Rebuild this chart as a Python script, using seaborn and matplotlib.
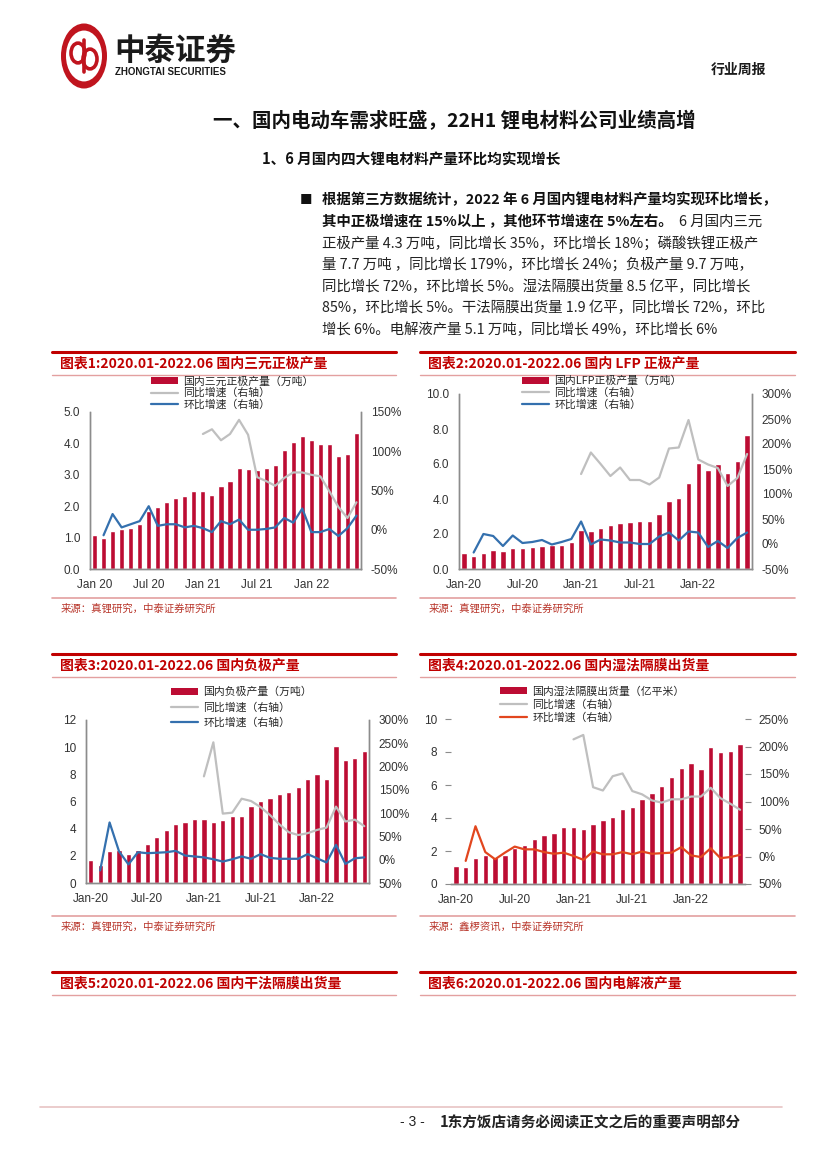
import numpy as np
import pandas as pd
import matplotlib
matplotlib.use("Agg")
import matplotlib.pyplot as plt
import seaborn as sns
from matplotlib.lines import Line2D
from matplotlib.patches import Patch, Circle

# ---------------- data ----------------
months = pd.date_range("2020-01-01", periods=30, freq="MS").strftime("%Y-%m").tolist()
tick_pos = [0, 6, 12, 18, 24]
ticks_space = ["Jan 20", "Jul 20", "Jan 21", "Jul 21", "Jan 22"]
ticks_dash = ["Jan-20", "Jul-20", "Jan-21", "Jul-21", "Jan-22"]

# chart 1: NCM cathode output (10k t), yoy from Jan-21, mom from Feb-20 (%)
ncm_output = [1.09, 1.00, 1.22, 1.27, 1.31, 1.44, 1.86, 1.98, 2.14, 2.27, 2.33, 2.47,
              2.47, 2.36, 2.65, 2.81, 3.22, 3.19, 3.16, 3.22, 3.32, 3.80, 4.05, 4.25,
              4.11, 3.98, 3.98, 3.60, 3.67, 4.33]
ncm_yoy = [122, 128, 114, 122, 140, 121, 67, 62, 56, 66, 73, 73, 70, 68, 49, 29, 15, 35]
ncm_mom = [-7, 20, 3, 7, 11, 30, 5, 7, 7, 3, 5,
           2, -3, 11, 7, 13, 0, 0, 1, 3, 15, 9, 27,
           -3, -3, 1, -8, 2, 18]

# chart 2: LFP cathode output
lfp_output = [0.92, 0.75, 0.92, 1.09, 1.03, 1.21, 1.21, 1.28, 1.32, 1.38, 1.40, 1.57,
              2.24, 2.18, 2.36, 2.53, 2.64, 2.70, 2.76, 2.76, 3.16, 3.91, 4.08, 4.89,
              6.03, 5.63, 5.98, 5.46, 6.15, 7.64]
lfp_yoy = [140, 183, 160, 136, 153, 128, 128, 119, 133, 191, 193, 248, 169, 159, 152, 116, 132, 180]
lfp_mom = [-17, 20, 16, -4, 17, 2, 4, 8, -1, 4, 10,
           45, -1, 9, 7, 3, 3, 0, 0, 15, 23, 7, 25,
           23, -6, 6, -8, 12, 23]

# chart 3: anode output
anode_output = [1.72, 1.30, 2.33, 2.45, 2.16, 2.45, 2.84, 3.36, 3.92, 4.36, 4.51, 4.73,
                4.73, 4.51, 4.66, 4.95, 4.95, 5.69, 6.05, 6.27, 6.57, 6.72, 7.08, 7.67,
                8.04, 7.62, 10.1, 9.07, 9.22, 9.73]
anode_yoy = [179, 252, 99, 101, 131, 126, 113, 96, 76, 59, 53, 57, 64, 69, 114, 82, 86, 72]
anode_mom = [-23, 80, 18, -10, 16, 14, 15, 16, 19, 9, 7,
             5, 1, -4, 1, 7, 2, 12, 4, 2, 2, 2, 12,
             3, -6, 32, -9, 3, 5]

# chart 4: wet separator shipments (100m m2)
wet_output = [1.10, 1.03, 1.58, 1.76, 1.65, 1.76, 2.20, 2.37, 2.74, 2.96, 3.10, 3.45,
              3.45, 3.35, 3.65, 3.87, 4.06, 4.54, 4.67, 5.15, 5.52, 5.94, 6.49, 7.04,
              7.34, 6.98, 8.32, 8.01, 8.07, 8.46]
wet_yoy = [213, 221, 126, 120, 146, 151, 119, 113, 102, 98, 104, 104, 109, 109, 125, 106, 96, 85]
wet_mom = [-8, 55, 8, -5, 7, 18, 13, 13, 8, 5, 7,
           1, -6, 9, 4, 4, 8, 4, 9, 5, 6, 7, 17,
           2, -1, 15, -3, -1, 3]

# ---------------- style ----------------
W, H = 827, 1169
BAR_RED = "#BC0C33"
GREY = "#BFBFBF"
BLUE = "#3470AE"
ORANGE = "#E2461E"
TITLE_RED = "#C00000"
PINK = "#E3A0A0"
SPINE = "#8C8C8C"
TICK_TXT = "#333333"
LATIN = "Liberation Sans"

sns.set_style("white")
plt.rcParams['font.family'] = ['Noto Sans CJK SC', 'DejaVu Sans']

fig = plt.figure(figsize=(W / 100, H / 100), dpi=100)


def fx(x):
    return x / W


def fy(y):
    return 1 - y / H


def page_text(x, y, s, **kw):
    kw.setdefault("va", "center")
    return fig.text(fx(x), fy(y), s, **kw)


def hline(x0, x1, y, color, lw):
    fig.add_artist(Line2D([fx(x0), fx(x1)], [fy(y), fy(y)],
                          transform=fig.transFigure, color=color, lw=lw))


def chart_block(x0, x1, top, title, bottom=None, source=None):
    hline(x0, x1, top, TITLE_RED, 2.2)
    page_text(x0 + 8, top + 12, title, color=TITLE_RED, fontsize=10, fontweight="bold")
    hline(x0, x1, top + 23, PINK, 1.0)
    if bottom is not None:
        hline(x0, x1, bottom, PINK, 1.2)
        page_text(x0 + 9, bottom + 11, source, color="#B8352A", fontsize=7.5)


def draw_chart(box, values, yoy, mom, ylim, yticks, yfmt, rlim, rlabels, xlabels,
               bar_label, legend_xy, mom_color, spines=True, row_gap=0.25):
    x0, y0, x1, y1 = box
    ax = fig.add_axes([fx(x0), fy(y1), (x1 - x0) / W, (y1 - y0) / H])
    df = pd.DataFrame({"month": months, "value": values})
    sns.barplot(data=df, x="month", y="value", color=BAR_RED, saturation=1,
                width=0.56, ax=ax)
    ax2 = ax.twinx()
    sns.lineplot(x=np.arange(12, 30), y=yoy, color=GREY, lw=1.6, ax=ax2)
    sns.lineplot(x=np.arange(1, 30), y=mom, color=mom_color, lw=1.6, ax=ax2)

    ax.set_xlim(-0.5, 29.5)
    ax.set_ylim(*ylim)
    ax.set_yticks(yticks)
    ax.set_yticklabels([yfmt.format(v) for v in yticks])
    ax.set_xticks(tick_pos)
    ax.set_xticklabels(xlabels)
    rt = list(range(rlim[0], rlim[1] + 1, 50))
    ax2.set_ylim(*rlim)
    ax2.set_yticks(rt)
    ax2.set_yticklabels(rlabels)
    for a in (ax, ax2):
        a.set_xlabel("")
        a.set_ylabel("")
        a.spines["top"].set_visible(False)
        for s in a.spines.values():
            s.set_color(SPINE)
            s.set_linewidth(1.0)
    ax.tick_params(axis="x", length=3, color=SPINE, labelsize=8.5, labelcolor=TICK_TXT,
                   labelfontfamily=LATIN, pad=4)
    if spines:
        ax.tick_params(axis="y", length=0, labelsize=8.5, labelcolor=TICK_TXT,
                       labelfontfamily=LATIN, pad=7)
        ax2.tick_params(axis="y", length=0, labelsize=8.5, labelcolor=TICK_TXT,
                        labelfontfamily=LATIN, pad=7)
    else:
        for a in (ax, ax2):
            a.spines["left"].set_visible(False)
            a.spines["right"].set_visible(False)
        ax.tick_params(axis="y", length=4, color=SPINE, labelsize=8.5, labelcolor=TICK_TXT,
                       labelfontfamily=LATIN, pad=6)
        ax2.tick_params(axis="y", length=4, color=SPINE, labelsize=8.5, labelcolor=TICK_TXT,
                        labelfontfamily=LATIN, pad=6)
    if ax2.get_legend():
        ax2.get_legend().remove()

    handles = [Patch(facecolor=BAR_RED, edgecolor="none"),
               Line2D([], [], color=GREY, lw=1.6),
               Line2D([], [], color=mom_color, lw=1.6)]
    labels = [bar_label, "同比增速（右轴）", "环比增速（右轴）"]
    fig.legend(handles, labels, loc="upper left",
               bbox_to_anchor=(fx(legend_xy[0]), fy(legend_xy[1])),
               frameon=False, fontsize=7.8, handlelength=2.5, handleheight=0.6,
               handletextpad=0.5, labelspacing=row_gap, borderpad=0, borderaxespad=0)
    return ax, ax2


# ---------------- header ----------------
fig.add_artist(Circle((fx(84), fy(56)), 23 / W, transform=fig.transFigure,
                      facecolor="#C0141E", edgecolor="none"))
fig.add_artist(Circle((fx(84), fy(56)), 18 / W, transform=fig.transFigure,
                      facecolor="white", edgecolor="none"))
fig.add_artist(Circle((fx(78), fy(53)), 7 / W, transform=fig.transFigure,
                      facecolor="none", edgecolor="#C0141E", lw=2.6))
fig.add_artist(Circle((fx(90), fy(59)), 7 / W, transform=fig.transFigure,
                      facecolor="none", edgecolor="#C0141E", lw=2.6))
fig.add_artist(Line2D([fx(84), fx(84)], [fy(40), fy(72)], transform=fig.transFigure,
                      color="#C0141E", lw=2.6))
page_text(114, 51, "中泰证券", fontsize=22, fontweight="bold", color="#1A1A1A")
page_text(115, 72, "ZHONGTAI SECURITIES", fontsize=7, fontweight="bold",
          family=LATIN, color="#1A1A1A")
page_text(766, 70, "行业周报", fontsize=10, fontweight="bold", ha="right", color="#1A1A1A")

page_text(454, 121, "一、国内电动车需求旺盛，22H1 锂电材料公司业绩高增",
          fontsize=14, fontweight="bold", ha="center", color="#111111")
page_text(262, 160, "1、6 月国内四大锂电材料产量环比均实现增长",
          fontsize=10.5, fontweight="bold", color="#111111")

# ---------------- body paragraph ----------------
BODY_X = 322
BODY_FS = 10.4
rows_y = [200, 221.7, 243.3, 265, 286.7, 308.3, 330]
page_text(300, 200, "■", fontsize=9, color="#111111")
page_text(BODY_X, rows_y[0], "根据第三方数据统计，2022 年 6 月国内锂电材料产量均实现环比增长，",
          fontsize=BODY_FS, fontweight="bold", color="#111111")
bold_part = page_text(BODY_X, rows_y[1], "其中正极增速在 15%以上 ，其他环节增速在 5%左右。",
                      fontsize=BODY_FS, fontweight="bold", color="#111111")
renderer = fig.canvas.get_renderer()
bb = bold_part.get_window_extent(renderer=renderer)
page_text(bb.x1 + 6, rows_y[1], "6 月国内三元", fontsize=BODY_FS, color="#222222")
body_rows = [
    "正极产量 4.3 万吨，同比增长 35%，环比增长 18%；磷酸铁锂正极产",
    "量 7.7 万吨 ，同比增长 179%，环比增长 24%；负极产量 9.7 万吨，",
    "同比增长 72%，环比增长 5%。湿法隔膜出货量 8.5 亿平，同比增长",
    "85%，环比增长 5%。干法隔膜出货量 1.9 亿平，同比增长 72%，环比",
    "增长 6%。电解液产量 5.1 万吨，同比增长 49%，环比增长 6%",
]
for y, row in zip(rows_y[2:], body_rows):
    page_text(BODY_X, y, row, fontsize=BODY_FS, color="#222222")

# ---------------- chart blocks ----------------
chart_block(52, 396, 352, "图表1:2020.01-2022.06 国内三元正极产量", 598,
            "来源：真锂研究，中泰证券研究所")
chart_block(420, 795, 352, "图表2:2020.01-2022.06 国内 LFP 正极产量", 598,
            "来源：真锂研究，中泰证券研究所")
chart_block(52, 396, 654, "图表3:2020.01-2022.06 国内负极产量", 916,
            "来源：真锂研究，中泰证券研究所")
chart_block(420, 795, 654, "图表4:2020.01-2022.06 国内湿法隔膜出货量", 916,
            "来源：鑫椤资讯，中泰证券研究所")
chart_block(52, 396, 972, "图表5:2020.01-2022.06 国内干法隔膜出货量")
chart_block(420, 795, 972, "图表6:2020.01-2022.06 国内电解液产量")

draw_chart((90, 412, 361, 569), ncm_output, ncm_yoy, ncm_mom,
           (0, 5), [0, 1, 2, 3, 4, 5], "{:.1f}", (-50, 150),
           ["-50%", "0%", "50%", "100%", "150%"], ticks_space,
           "国内三元正极产量（万吨）", (151, 376), BLUE, row_gap=0.12)
draw_chart((459, 394, 752, 569), lfp_output, lfp_yoy, lfp_mom,
           (0, 10), [0, 2, 4, 6, 8, 10], "{:.1f}", (-50, 300),
           ["-50%", "0%", "50%", "100%", "150%", "200%", "250%", "300%"], ticks_dash,
           "国内LFP正极产量（万吨）", (522, 376), BLUE, row_gap=0.12)
draw_chart((86, 720, 369, 883), anode_output, anode_yoy, anode_mom,
           (0, 12), [0, 2, 4, 6, 8, 10, 12], "{:.0f}", (-50, 300),
           ["50%", "0%", "50%", "100%", "150%", "200%", "250%", "300%"], ticks_dash,
           "国内负极产量（万吨）", (171, 687), BLUE, row_gap=0.45)
draw_chart((451, 719, 745, 884), wet_output, wet_yoy, wet_mom,
           (0, 10), [0, 2, 4, 6, 8, 10], "{:.0f}", (-50, 250),
           ["50%", "0%", "50%", "100%", "150%", "200%", "250%"], ticks_dash,
           "国内湿法隔膜出货量（亿平米）", (500, 686), ORANGE, spines=False, row_gap=0.25)

# ---------------- footer ----------------
hline(40, 782, 1107, "#E8C4C4", 1.2)
page_text(400, 1122, "- 3 -", fontsize=10, color="#222222", family=LATIN)
page_text(440, 1122, "1东方饭店请务必阅读正文之后的重要声明部分", fontsize=10.5,
          fontweight="bold", color="#222222")

fig.savefig("out.png", dpi=100)
